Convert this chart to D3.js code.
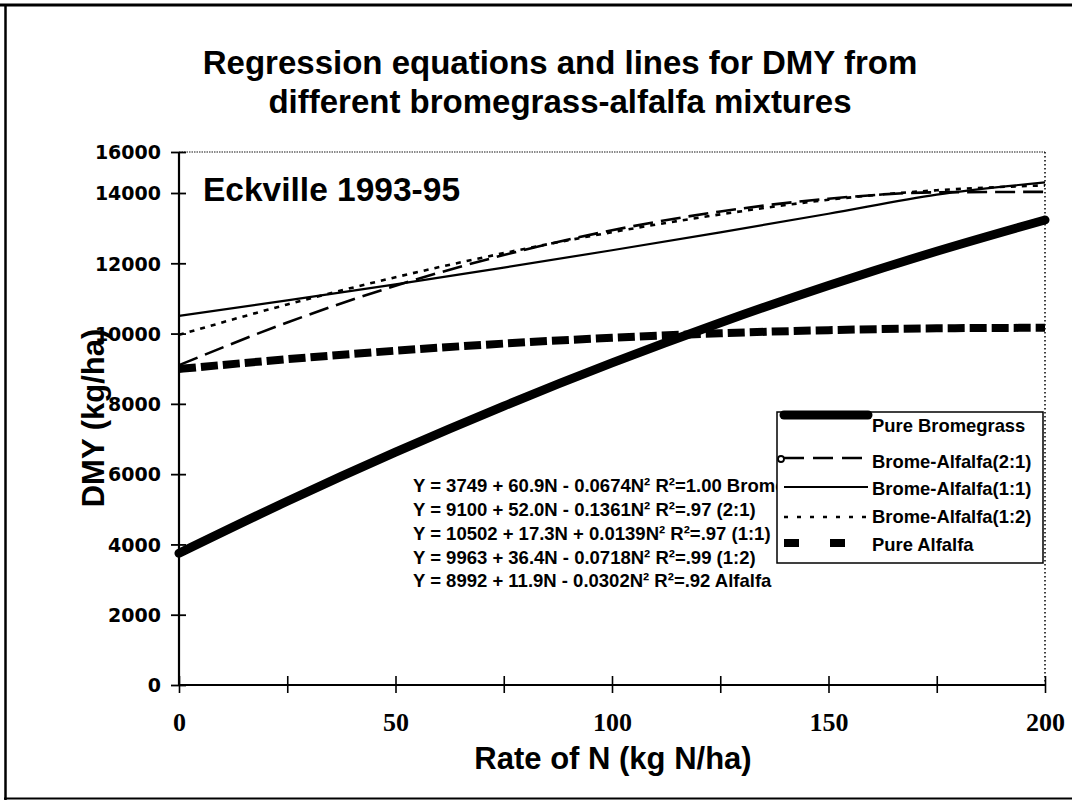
<!DOCTYPE html>
<html>
<head>
<meta charset="utf-8">
<script src="https://cdn.jsdelivr.net/npm/d3@7"></script>
<style>
  html, body { margin: 0; padding: 0; background: #fff; }
  svg { display: block; }
  .sans { font-family: "Liberation Sans", Arial, Helvetica, sans-serif; font-weight: bold; }
  .wide { font-family: "DejaVu Sans", Verdana, sans-serif; font-weight: bold; }
  .serif { font-family: "Liberation Serif", "Times New Roman", serif; font-weight: bold; }
</style>
</head>
<body>
<svg id="chart" width="1072" height="800"></svg>
<script>
// ---- data ----
const rateN = [0, 25, 50, 75, 100, 125, 150, 175, 200];
const pureBromegrass = [3749, 5229, 6625, 7937, 9165, 10308, 11367, 12342, 13233];
const bromeAlfalfa21 = [9100, 10315, 11360, 12234, 12939, 13473, 13838, 14032, 14056];
const bromeAlfalfa11 = [10502, 10943, 11402, 11878, 12371, 12882, 13410, 13955, 14518];
const bromeAlfalfa12 = [9963, 10828, 11603, 12289, 12885, 13391, 13807, 14134, 14371];
const pureAlfalfa = [8992, 9271, 9512, 9715, 9880, 10008, 10098, 10150, 10164];

const seriesNames = ["Pure Bromegrass", "Brome-Alfalfa(2:1)", "Brome-Alfalfa(1:1)", "Brome-Alfalfa(1:2)", "Pure Alfalfa"];
const yTicks = [0, 2000, 4000, 6000, 8000, 10000, 12000, 14000, 16000];
const xTicks = [0, 50, 100, 150, 200];
const xMinorTicks = [0, 25, 50, 75, 100, 125, 150, 175, 200];
const equations = [
  "Y = 3749 + 60.9N - 0.0674N\u00B2 R\u00B2=1.00 Brome",
  "Y = 9100 + 52.0N - 0.1361N\u00B2 R\u00B2=.97 (2:1)",
  "Y = 10502 + 17.3N + 0.0139N\u00B2 R\u00B2=.97 (1:1)",
  "Y = 9963 + 36.4N - 0.0718N\u00B2 R\u00B2=.99 (1:2)",
  "Y = 8992 + 11.9N - 0.0302N\u00B2 R\u00B2=.92 Alfalfa"
];
const titleLines = ["Regression equations and lines for DMY from", "different bromegrass-alfalfa mixtures"];

// ---- drawing ----
const svg = d3.select("#chart");

// outer frame
svg.append("line").attr("x1", 0).attr("x2", 1072).attr("y1", 5).attr("y2", 5).attr("stroke", "#000").attr("stroke-width", 3);
svg.append("line").attr("x1", 5.5).attr("x2", 5.5).attr("y1", 4).attr("y2", 800).attr("stroke", "#000").attr("stroke-width", 2.5);
svg.append("line").attr("x1", 4).attr("x2", 1072).attr("y1", 798.5).attr("y2", 798.5).attr("stroke", "#000").attr("stroke-width", 2);

const x = d3.scaleLinear().domain([0, 200]).range([179, 1045]);
const y = d3.scaleLinear().domain([0, 14000, 16000]).range([685, 193, 152]);

// plot border (dotted top & right)
svg.append("line").attr("x1", x(0)).attr("x2", x(200)).attr("y1", y(16000)).attr("y2", y(16000))
  .attr("stroke", "#666").attr("stroke-width", 1.3).attr("stroke-dasharray", "1.5,1");
svg.append("line").attr("x1", x(200)).attr("x2", x(200)).attr("y1", y(16000)).attr("y2", y(0))
  .attr("stroke", "#000").attr("stroke-width", 1.5).attr("stroke-dasharray", "1.5,2.5");

// axes
const yAxis = svg.append("g").attr("transform", `translate(${x(0)},0)`)
  .call(d3.axisLeft(y).tickValues(yTicks).tickFormat(d3.format("d")).tickSize(7).tickPadding(12));
yAxis.select(".domain").attr("stroke-width", 2.2).attr("d", `M0,${y(16000)}V${y(0)}`);
yAxis.selectAll(".tick line").attr("x1", -8).attr("x2", 7).attr("stroke-width", 1.8);
yAxis.selectAll(".tick text").attr("class", "wide").attr("font-size", 19).attr("fill", "#000").attr("x", -18).attr("dy", "0.36em");

const xAxis = svg.append("g").attr("transform", `translate(0,${y(0)})`)
  .call(d3.axisBottom(x).tickValues(xMinorTicks).tickFormat(d => xTicks.includes(d) ? d : "").tickSize(8));
xAxis.select(".domain").attr("stroke-width", 2.2).attr("d", `M${x(0)},0H${x(200)}`);
xAxis.selectAll(".tick line").attr("y1", -9).attr("y2", 8).attr("stroke-width", 1.6);
xAxis.selectAll(".tick text").attr("class", "serif").attr("font-size", 26).attr("fill", "#000").attr("y", 46).attr("dy", 0);

// lines
const line = d3.line().x((d, i) => x(rateN[i])).y(d => y(d)).curve(d3.curveMonotoneX);
const styles = [
  { data: pureBromegrass, w: 9, dash: null, cap: "round" },
  { data: bromeAlfalfa21, w: 2.6, dash: "20,8", cap: "butt" },
  { data: bromeAlfalfa11, w: 2.2, dash: null, cap: "butt" },
  { data: bromeAlfalfa12, w: 2.6, dash: "5,6", cap: "butt" },
  { data: pureAlfalfa, w: 8, dash: "17,5", cap: "butt" }
];
const drawOrder = [4, 1, 3, 2, 0];
drawOrder.forEach(k => {
  const s = styles[k];
  svg.append("path").attr("d", line(s.data)).attr("fill", "none").attr("stroke", "#000")
    .attr("stroke-width", s.w).attr("stroke-linecap", s.cap)
    .attr("stroke-dasharray", s.dash);
});

// titles
svg.append("text").attr("class", "sans").attr("x", 560).attr("y", 74).attr("text-anchor", "middle")
  .attr("font-size", 33).text(titleLines[0]);
svg.append("text").attr("class", "sans").attr("x", 560).attr("y", 113).attr("text-anchor", "middle")
  .attr("font-size", 33).text(titleLines[1]);

svg.append("text").attr("class", "sans").attr("x", 203).attr("y", 201).attr("font-size", 33.5).text("Eckville 1993-95");

svg.append("text").attr("class", "sans").attr("x", 613).attr("y", 769).attr("text-anchor", "middle")
  .attr("font-size", 31).text("Rate of N (kg N/ha)");
svg.append("text").attr("class", "sans").attr("transform", "translate(104,418) rotate(-90)")
  .attr("text-anchor", "middle").attr("font-size", 31).text("DMY (kg/ha)");

// equations
const eqBase = [492, 516, 540, 564, 587];
equations.forEach((t, i) => {
  svg.append("text").attr("class", "sans").attr("x", 413).attr("y", eqBase[i])
    .attr("font-size", 18.5).text(t);
});

// legend
svg.append("rect").attr("x", 777).attr("y", 412).attr("width", 266).attr("height", 151)
  .attr("fill", "#fff").attr("stroke", "#000").attr("stroke-width", 1.5);
const legY = [415, 458, 487, 517, 543];
const legText = [432, 468, 495, 523, 551];
const legDash = [null, "20,9", null, "4,9", "15,31"];
const legW = [9, 2.6, 2.2, 2.6, 8];
seriesNames.forEach((nm, i) => {
  svg.append("line").attr("x1", 784).attr("x2", 868).attr("y1", legY[i]).attr("y2", legY[i])
    .attr("stroke", "#000").attr("stroke-width", legW[i]).attr("stroke-dasharray", legDash[i])
    .attr("stroke-linecap", i === 0 ? "round" : "butt");
  svg.append("text").attr("class", "sans").attr("x", 872).attr("y", legText[i]).attr("font-size", 18.4).text(nm);
});
svg.append("circle").attr("cx", 781).attr("cy", 459).attr("r", 3).attr("fill", "#fff").attr("stroke", "#000").attr("stroke-width", 1.8);
</script>
</body>
</html>
